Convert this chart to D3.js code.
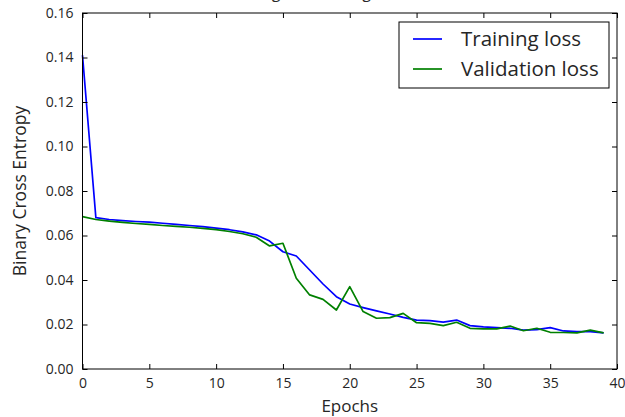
<!DOCTYPE html>
<html>
<head>
<meta charset="utf-8">
<script src="https://cdn.jsdelivr.net/npm/d3@7"></script>
<style>
  body { margin: 0; background: #fff; }
  svg text { font-family: "Open Sans", sans-serif; fill: #262626; }
</style>
</head>
<body>
<div id="chart"></div>
<script>
// loss per epoch, read per epoch index 0..39
var trainingLoss = [
  0.141, 0.0680, 0.0672, 0.0667, 0.0663, 0.0660, 0.0655, 0.0650, 0.0645, 0.0640,
  0.0633, 0.0626, 0.0616, 0.0603, 0.0575, 0.0527, 0.0508, 0.0445, 0.0382, 0.0325,
  0.0292, 0.0276, 0.0261, 0.0247, 0.0232, 0.0220, 0.0217, 0.0211, 0.0220, 0.0195,
  0.0189, 0.0186, 0.0183, 0.0175, 0.0177, 0.0186, 0.0171, 0.0168, 0.0168, 0.0162
];
var validationLoss = [
  0.0685, 0.0672, 0.0665, 0.0659, 0.0654, 0.0650, 0.0645, 0.0641, 0.0637, 0.0632,
  0.0626, 0.0618, 0.0608, 0.0592, 0.0553, 0.0565, 0.0408, 0.0333, 0.0313, 0.0265,
  0.0370, 0.0258, 0.0228, 0.0231, 0.0250, 0.0208, 0.0205, 0.0195, 0.0210, 0.0183,
  0.0180, 0.0180, 0.0193, 0.0172, 0.0183, 0.0165, 0.0164, 0.0162, 0.0175, 0.0162
];
var seriesNames = ["Training loss", "Validation loss"];
var seriesColors = ["#0000ff", "#008000"];
var xTicks = [0, 5, 10, 15, 20, 25, 30, 35, 40];
var yTicks = [0, 0.02, 0.04, 0.06, 0.08, 0.10, 0.12, 0.14, 0.16];

var width = 625, height = 417;
var margin = {top: 13, right: 8, bottom: 48, left: 82.5};
var plotW = width - margin.left - margin.right;
var plotH = height - margin.top - margin.bottom;

var svg = d3.select("#chart").append("svg")
  .attr("width", width)
  .attr("height", height);

// title sits mostly above the canvas, only descenders show
svg.append("text")
  .attr("x", 312)
  .attr("y", -2)
  .attr("text-anchor", "middle")
  .attr("font-size", 16)
  .text("Training and Testing loss");

var g = svg.append("g")
  .attr("transform", "translate(" + margin.left + "," + margin.top + ")");

var x = d3.scaleLinear().domain([0, 40]).range([0, plotW]);
var y = d3.scaleLinear().domain([0, 0.16]).range([plotH, 0]);

// lines
var line = d3.line()
  .x(function(d, i) { return x(i); })
  .y(function(d) { return y(d); });

[trainingLoss, validationLoss].forEach(function(s, k) {
  g.append("path")
    .datum(s)
    .attr("fill", "none")
    .attr("stroke", seriesColors[k])
    .attr("stroke-width", 1.7)
    .attr("stroke-linejoin", "round")
    .attr("d", line);
});

// axes: ticks point inward on all four sides
var tickLen = 5;
function styleAxis(sel) {
  sel.select(".domain").remove();
  sel.selectAll(".tick line").attr("stroke", "#000").attr("stroke-width", 1);
  sel.selectAll(".tick text").attr("font-size", 14).attr("fill", "#262626");
}

g.append("g")
  .attr("transform", "translate(0," + plotH + ")")
  .call(d3.axisBottom(x).tickValues(xTicks).tickSize(-tickLen).tickPadding(9).tickFormat(d3.format("d")))
  .call(styleAxis);

g.append("g")
  .call(d3.axisTop(x).tickValues(xTicks).tickSize(-tickLen).tickFormat(""))
  .call(styleAxis);

g.append("g")
  .call(d3.axisLeft(y).tickValues(yTicks).tickSize(-tickLen).tickPadding(9).tickFormat(d3.format(".2f")))
  .call(styleAxis);

g.append("g")
  .attr("transform", "translate(" + plotW + ",0)")
  .call(d3.axisRight(y).tickValues(yTicks).tickSize(-tickLen).tickFormat(""))
  .call(styleAxis);

// frame
g.append("rect")
  .attr("width", plotW)
  .attr("height", plotH)
  .attr("fill", "none")
  .attr("stroke", "#000")
  .attr("stroke-width", 1);

// axis labels
svg.append("text")
  .attr("x", margin.left + plotW / 2)
  .attr("y", 412)
  .attr("text-anchor", "middle")
  .attr("font-size", 17)
  .text("Epochs");

svg.append("text")
  .attr("transform", "translate(26," + (margin.top + plotH / 2) + ") rotate(-90)")
  .attr("text-anchor", "middle")
  .attr("font-size", 17.5)
  .text("Binary Cross Entropy");

// legend
var legend = svg.append("g").attr("transform", "translate(399,22)");
legend.append("rect")
  .attr("width", 210)
  .attr("height", 66)
  .attr("fill", "#fff")
  .attr("stroke", "#000")
  .attr("stroke-width", 1);

seriesNames.forEach(function(name, k) {
  var row = legend.append("g").attr("transform", "translate(0," + (17 + k * 30) + ")");
  row.append("line")
    .attr("x1", 14).attr("x2", 43)
    .attr("stroke", seriesColors[k])
    .attr("stroke-width", 1.7);
  row.append("text")
    .attr("x", 62)
    .attr("dy", "0.35em")
    .attr("font-size", 20.5)
    .text(name);
});
</script>
</body>
</html>
